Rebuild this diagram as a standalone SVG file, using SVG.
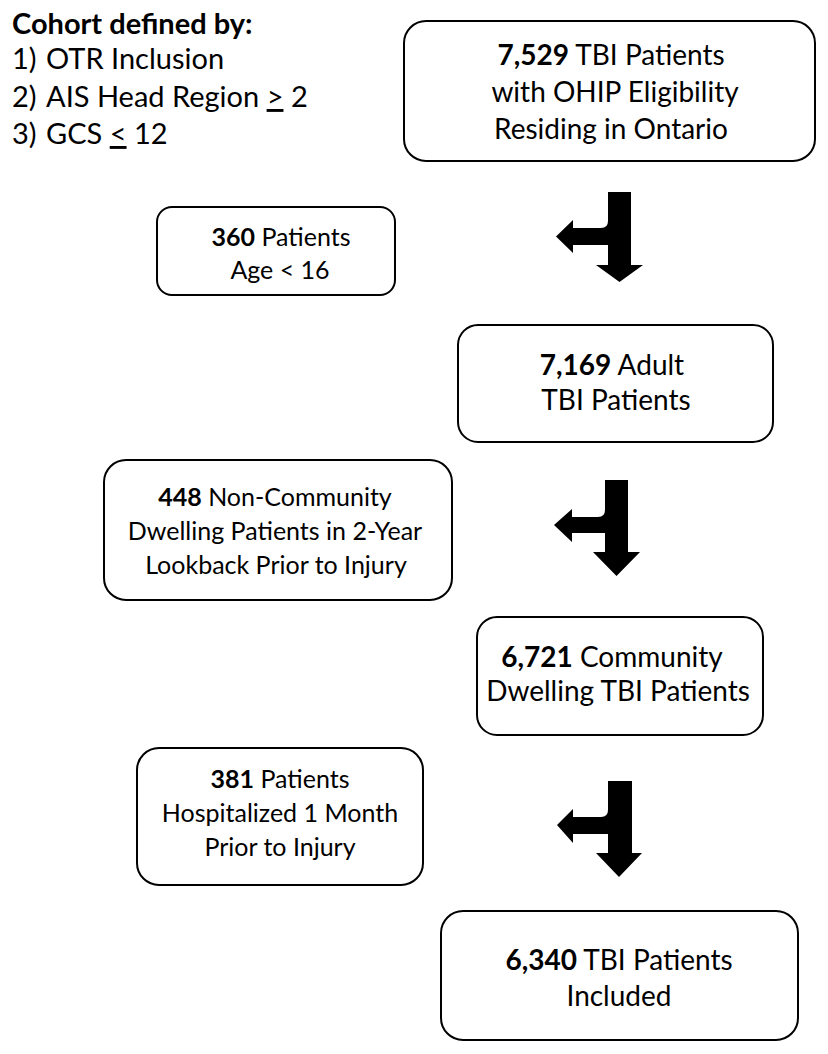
<svg xmlns="http://www.w3.org/2000/svg" width="828" height="1054" viewBox="0 0 828 1054">
<style>
.box{fill:#fff;stroke:#000;stroke-width:2}
text{font-family:Lato,"Open Sans","Liberation Sans",sans-serif;font-size:28px;fill:#000}
.h{font-size:29px}
.x{font-size:25px}
.c{text-anchor:middle}
.b{font-weight:bold}
.arrow{fill:#000}
</style>
<rect width="828" height="1054" fill="#fff"/>
<g id="criteria">
<text x="12" y="34" class="h b">Cohort defined by:</text>
<text x="12" y="69" class="h">1)</text><text x="46" y="69" class="h">OTR Inclusion</text>
<text x="12" y="107" class="h">2)</text><text x="46" y="107" class="h">AIS Head Region <tspan text-decoration="underline">&gt;</tspan> 2</text>
<text x="12" y="144" class="h">3)</text><text x="46" y="144" class="h">GCS <tspan text-decoration="underline">&lt;</tspan> 12</text>
</g>
<g id="n1">
<rect class="box" x="404" y="21" width="411" height="140" rx="22"/>
<text class="c" x="611" y="65"><tspan class="b">7,529</tspan> TBI Patients</text>
<text class="c" x="615" y="102">with OHIP Eligibility</text>
<text class="c" x="611" y="139">Residing in Ontario</text>
</g>
<g id="n2">
<rect class="box" x="157" y="207" width="238" height="88" rx="15"/>
<text class="c x" x="281" y="246"><tspan class="b">360</tspan> Patients</text>
<text class="c x" x="280" y="279">Age &lt; 16</text>
</g>
<g id="n3">
<rect class="box" x="458" y="325" width="315" height="117" rx="20"/>
<text class="c" x="612" y="375"><tspan class="b">7,169</tspan> Adult</text>
<text class="c" x="616" y="410">TBI Patients</text>
</g>
<g id="n4">
<rect class="box" x="104" y="460" width="348" height="140" rx="22"/>
<text class="c x" x="275" y="506"><tspan class="b">448</tspan> Non-Community</text>
<text class="c x" x="275" y="540">Dwelling Patients in 2-Year</text>
<text class="c x" x="276" y="574">Lookback Prior to Injury</text>
</g>
<g id="n5">
<rect class="box" x="477" y="617" width="286" height="118" rx="20"/>
<text class="c" x="612" y="667"><tspan class="b">6,721</tspan> Community</text>
<text class="c" x="618" y="701">Dwelling TBI Patients</text>
</g>
<g id="n6">
<rect class="box" x="137" y="748" width="286" height="137" rx="22"/>
<text class="c x" x="280" y="788"><tspan class="b">381</tspan> Patients</text>
<text class="c x" x="280" y="822">Hospitalized 1 Month</text>
<text class="c x" x="280" y="856">Prior to Injury</text>
</g>
<g id="n7">
<rect class="box" x="441" y="911" width="357" height="129" rx="22"/>
<text class="c" x="619" y="970"><tspan class="b">6,340</tspan> TBI Patients</text>
<text class="c" x="619" y="1006">Included</text>
</g>
<g id="connectors">
<path class="arrow" d="M608,192 L631,192 L631,265 L643,265 L619.5,282 L596,265 L608,265 L608,245 L573,245 L573,253 L556,236.5 L573,220 L573,228 L601,228 Q608,228 608,221 Z"/>
<path class="arrow" d="M605,480 L628,480 L628,552 L640,552 L616.5,576 L593,552 L605,552 L605,533 L572,533 L572,542 L554,525 L572,509 L572,517 L598,517 Q605,517 605,510 Z"/>
<path class="arrow" d="M608,781 L632,781 L632,853 L642,853 L619,877 L596,853 L608,853 L608,834 L573,834 L573,843 L557,825 L573,809 L573,817 L601,817 Q608,817 608,810 Z"/>
</g>
</svg>
